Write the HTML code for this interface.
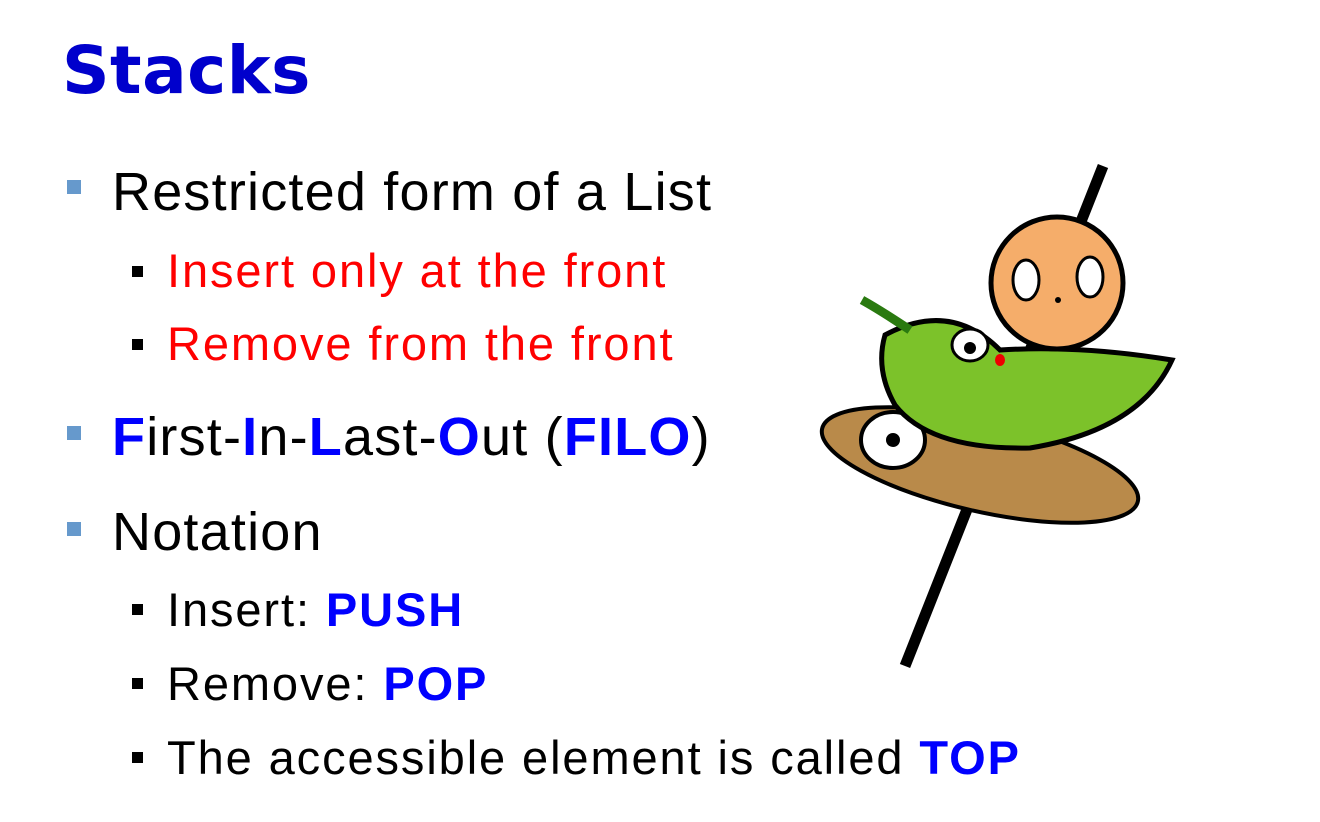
<!DOCTYPE html>
<html><head><meta charset="utf-8"><style>
body{margin:0;width:1320px;height:822px;background:#fff;position:relative;overflow:hidden;font-family:"Liberation Sans",Arial,sans-serif}
.t{position:absolute;left:62px;top:38px;font-family:"DejaVu Sans",sans-serif;font-weight:bold;font-size:66px;color:#0000cc;line-height:1;letter-spacing:0.5px}
.l{position:absolute;white-space:nowrap;line-height:1}
.l1{left:112px;font-size:54px;color:#000;letter-spacing:1.2px}
.l2{left:167px;font-size:47px;color:#000;letter-spacing:1.9px}
.b1{position:absolute;left:67px;width:14px;height:14px;background:#6699cc}
.b2{position:absolute;left:132px;width:11px;height:11px;background:#000}
.r{color:#ff0000}.bl{color:#0000ff}.bb{color:#0000ff;font-weight:bold}
</style></head><body>
<div class="t">Stacks</div>
<div class="b1" style="top:180px"></div>
<div class="l l1" style="top:165px">Restricted form of a List</div>
<div class="b2" style="top:266px"></div>
<div class="l l2 r" style="top:247px">Insert only at the front</div>
<div class="b2" style="top:339px"></div>
<div class="l l2 r" style="top:320px">Remove from the front</div>
<div class="b1" style="top:426px"></div>
<div class="l l1" style="top:410px"><b class="bl">F</b>irst-<b class="bl">I</b>n-<b class="bl">L</b>ast-<b class="bl">O</b>ut (<b class="bl">FILO</b>)</div>
<div class="b1" style="top:522px"></div>
<div class="l l1" style="top:505px">Notation</div>
<div class="b2" style="top:604px"></div>
<div class="l l2" style="top:586px">Insert: <span class="bb">PUSH</span></div>
<div class="b2" style="top:678px"></div>
<div class="l l2" style="top:660px">Remove: <span class="bb">POP</span></div>
<div class="b2" style="top:752px"></div>
<div class="l l2" style="top:734px">The accessible element is called <span class="bb">TOP</span></div>
<svg style="position:absolute;left:0;top:0" width="1320" height="822">
<line x1="1103" y1="166" x2="905" y2="666" stroke="#000" stroke-width="11"/>
<g transform="rotate(13 980 465)">
<ellipse cx="980" cy="465" rx="162" ry="46" fill="#b98a4a" stroke="#000" stroke-width="4"/>
</g>
<ellipse cx="893" cy="440" rx="32" ry="28" fill="#fff" stroke="#000" stroke-width="4"/>
<circle cx="893" cy="440" r="7" fill="#000"/>
<path d="M885 335 Q950 300 1000 350 Q1080 345 1172 360 Q1140 430 1030 448 Q930 450 895 405 Q875 370 885 335Z" fill="#7cc22a" stroke="#000" stroke-width="5"/>
<path d="M862 300 Q880 310 910 330" stroke="#2a7a10" stroke-width="9" fill="none"/>
<circle cx="1057" cy="283" r="66" fill="#f5ad6a" stroke="#000" stroke-width="5"/>
<ellipse cx="1026" cy="280" rx="13" ry="20" fill="#fff" stroke="#000" stroke-width="3"/>
<ellipse cx="1090" cy="277" rx="13" ry="20" fill="#fff" stroke="#000" stroke-width="3"/>
<circle cx="1058" cy="300" r="3" fill="#000"/>
<ellipse cx="970" cy="345" rx="18" ry="16" fill="#fff" stroke="#000" stroke-width="3"/>
<circle cx="970" cy="348" r="6" fill="#000"/>
<ellipse cx="1000" cy="360" rx="5" ry="6" fill="#e00"/>
</svg>
</body></html>
